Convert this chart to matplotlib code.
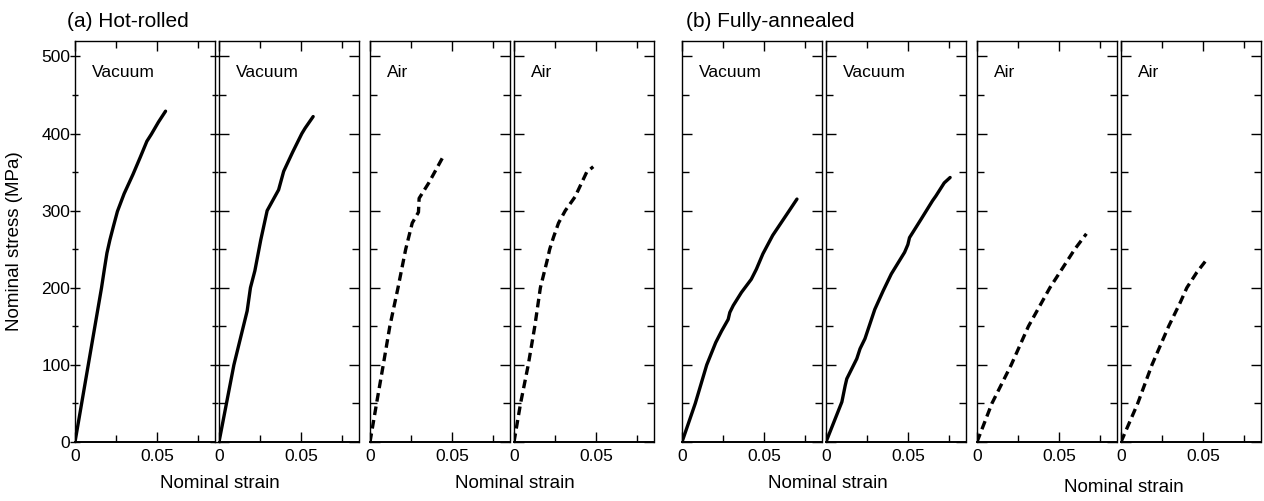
import matplotlib
matplotlib.use("Agg")
import matplotlib.pyplot as plt
from matplotlib.ticker import FixedLocator, MultipleLocator

plt.rcParams['font.family'] = ['Liberation Sans', 'DejaVu Sans']

# (a) hot-rolled
hr_vac1_strain = [0, 0.0081, 0.0162, 0.0180, 0.0195, 0.0213, 0.0235, 0.0259, 0.0300, 0.0354,
                  0.0400, 0.0439, 0.0466, 0.0510, 0.0553]
hr_vac1_stress = [0, 100, 200, 225, 245, 262, 280, 299, 322, 347, 370, 390, 399, 415, 429]
hr_vac2_strain = [0, 0.0091, 0.0172, 0.0192, 0.0219, 0.0255, 0.0294, 0.0338, 0.0364, 0.0395,
                  0.0450, 0.0506, 0.0526, 0.0575]
hr_vac2_stress = [0, 100, 170, 200, 222, 262, 300, 317, 327, 351, 376, 400, 407, 422]
hr_air1_strain = [0, 0.0040, 0.0081, 0.0121, 0.0171, 0.0218, 0.0258, 0.0296, 0.0300, 0.0359, 0.0444]
hr_air1_stress = [0, 50, 100, 150, 200, 250, 284, 298, 316, 336, 369]
hr_air2_strain = [0, 0.0040, 0.0087, 0.0127, 0.0161, 0.0202, 0.0218, 0.0242, 0.0272, 0.0313,
                  0.0373, 0.0444, 0.0484]
hr_air2_stress = [0, 50, 100, 150, 200, 235, 250, 266, 284, 300, 318, 350, 357]

# (b) fully-annealed
fa_vac1_strain = [0, 0.0081, 0.0151, 0.0206, 0.0242, 0.0282, 0.0292, 0.0313, 0.0363, 0.0423,
                  0.0454, 0.0494, 0.0554, 0.0655, 0.0702]
fa_vac1_stress = [0, 50, 100, 129, 144, 159, 168, 177, 194, 211, 224, 244, 268, 300, 315]
fa_vac2_strain = [0, 0.0097, 0.0117, 0.0127, 0.0188, 0.0208, 0.0238, 0.0298, 0.0349, 0.0399,
                  0.0480, 0.0500, 0.0510, 0.0581, 0.0651, 0.0671, 0.0722, 0.0758]
fa_vac2_stress = [0, 52, 73, 82, 108, 121, 134, 172, 196, 218, 246, 256, 265, 289, 313, 319, 336, 343]
fa_air1_strain = [0, 0.0091, 0.0209, 0.0314, 0.0445, 0.0597, 0.0668]
fa_air1_stress = [0, 50, 100, 150, 200, 250, 270]
fa_air2_strain = [0, 0.0102, 0.0189, 0.0291, 0.0362, 0.0402, 0.0463, 0.0514]
fa_air2_stress = [0, 50, 100, 150, 181, 200, 220, 234]

curves = [
    (hr_vac1_strain, hr_vac1_stress, 'Vacuum'),
    (hr_vac2_strain, hr_vac2_stress, 'Vacuum'),
    (hr_air1_strain, hr_air1_stress, 'Air'),
    (hr_air2_strain, hr_air2_stress, 'Air'),
    (fa_vac1_strain, fa_vac1_stress, 'Vacuum'),
    (fa_vac2_strain, fa_vac2_stress, 'Vacuum'),
    (fa_air1_strain, fa_air1_stress, 'Air'),
    (fa_air2_strain, fa_air2_stress, 'Air'),
]

W, H = 1264, 501
fig = plt.figure(figsize=(W / 100, H / 100), dpi=100)

lefts = [75, 219, 370, 514, 682, 826, 977, 1121]
top, bottom, width = 41, 442, 140

for i, (x, y, env) in enumerate(curves):
    ax = fig.add_axes([lefts[i] / W, (H - bottom) / H, width / W, (bottom - top) / H])
    if env == 'Air':
        ax.plot(x, y, color='black', lw=2.4, ls=(0, (2.6, 1.5)))
    else:
        ax.plot(x, y, color='black', lw=2.4, solid_capstyle='round', solid_joinstyle='round')
    ax.set_xlim(0, 0.0855)
    ax.set_ylim(0, 520)
    ax.xaxis.set_major_locator(FixedLocator([0, 0.05]))
    ax.xaxis.set_minor_locator(MultipleLocator(0.025))
    ax.set_xticklabels(['0', '0.05'])
    ax.yaxis.set_major_locator(MultipleLocator(100))
    ax.yaxis.set_minor_locator(MultipleLocator(50))
    ax.tick_params(which='both', direction='in', top=True, right=True,
                   labelsize=12.5, width=1.0)
    ax.tick_params(which='major', length=7)
    ax.tick_params(which='minor', length=5)
    ax.tick_params(axis='x', pad=5)
    if i == 0:
        ax.tick_params(axis='y', which='both', direction='inout', pad=0)
    else:
        ax.tick_params(axis='y', labelleft=False)
    for s in ax.spines.values():
        s.set_linewidth(1.0)
    ax.spines['bottom'].set_linewidth(1.4)
    ax.text(0.12, 0.91, env, transform=ax.transAxes, fontsize=12.5, va='baseline')

fig.text(67 / W, 1 - 27 / H, '(a) Hot-rolled', fontsize=15, va='baseline')
fig.text(686 / W, 1 - 27 / H, '(b) Fully-annealed', fontsize=15, va='baseline')
fig.text(15 / W, 1 - 241 / H, 'Nominal stress (MPa)', rotation=90,
         fontsize=13.5, ha='center', va='center')
for xc, yc in [(220, 483), (515, 483), (828, 483), (1124, 488)]:
    fig.text(xc / W, 1 - yc / H, 'Nominal strain', fontsize=13.5, ha='center', va='center')

fig.savefig('out.png', dpi=100)
